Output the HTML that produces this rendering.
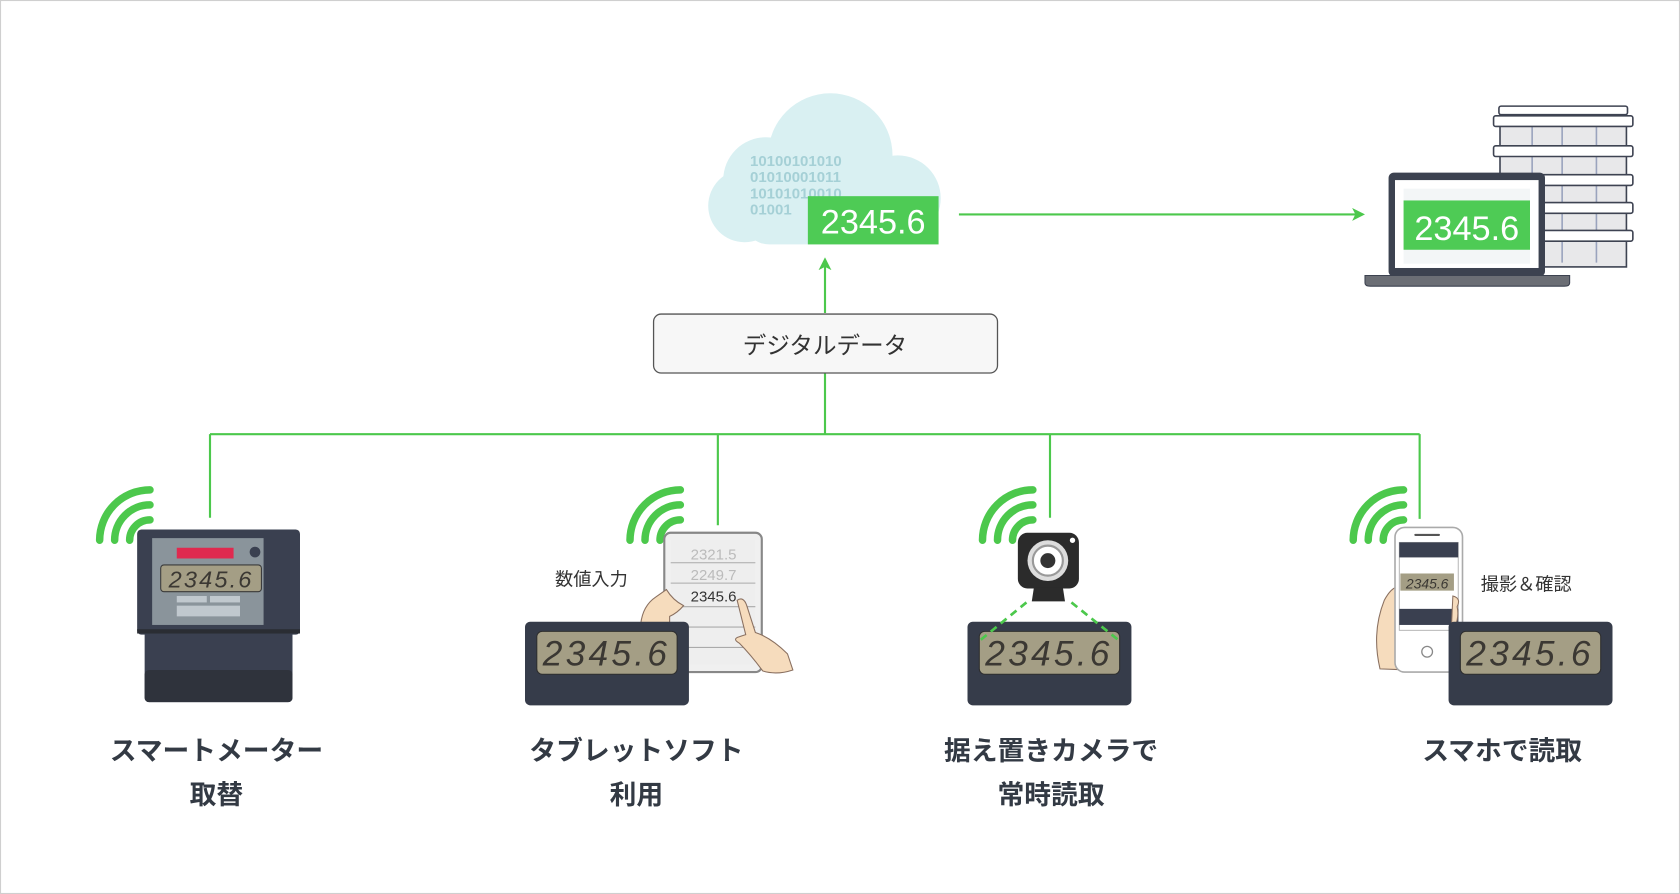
<!DOCTYPE html>
<html><head><meta charset="utf-8"><style>
html,body{margin:0;padding:0;background:#fff;}
svg{display:block;}
text{font-family:"Liberation Sans","Noto Sans CJK JP",sans-serif;}
.lcd{font-family:"Liberation Sans",sans-serif;font-style:italic;fill:#3b3833;}
</style></head><body>
<svg width="1680" height="894" viewBox="0 0 1568 834" preserveAspectRatio="none" xmlns="http://www.w3.org/2000/svg">
<rect x="0.5" y="0.5" width="1567" height="833" fill="#fff" stroke="#cfcfcf"/>
<defs>
<marker id="ah" markerWidth="12" markerHeight="12" refX="10" refY="6" orient="auto" markerUnits="userSpaceOnUse"><path d="M0,0 L12,6 L0,12 L3,6z" fill="#4cc84c"/></marker>
<g id="wifi" fill="none" stroke="#4cc84c" stroke-width="7" stroke-linecap="round">
<path d="M-47,0 A47,47 0 0 1 0,-47"/><path d="M-33,0 A33,33 0 0 1 0,-33"/><path d="M-19,0 A19,19 0 0 1 0,-19"/>
</g>
<g id="lcdbox">
<rect x="0" y="0" width="153" height="78" rx="5" fill="#363c4a"/>
<rect x="11" y="9" width="131" height="40" rx="5" fill="#a49e85" stroke="#2e2e2e" stroke-width="1"/>
<text x="76" y="41" text-anchor="middle" font-size="33" letter-spacing="3" class="lcd">2345.6</text>
</g>
</defs>

<!-- cloud -->
<g fill="#d9f0f2">
<circle cx="775" cy="145" r="58"/><circle cx="715" cy="168" r="40"/><circle cx="838" cy="185" r="40"/>
<circle cx="695" cy="192" r="34"/><rect x="693" y="172" width="180" height="56" rx="25"/>
</g>
<g font-family="Liberation Mono,monospace" font-size="14" fill="#a5d0d6" style="font-family:'Liberation Mono',monospace" font-weight="bold">
<text x="700" y="155">10100101010</text>
<text x="700" y="170">01010001011</text>
<text x="700" y="185">10101010010</text>
<text x="700" y="200">01001</text>
</g>
<rect x="754" y="183" width="122" height="45" fill="#4ecb55"/>
<text x="815" y="218" text-anchor="middle" font-size="32" fill="#fff">2345.6</text>

<!-- arrows -->
<g stroke="#4cc84c" stroke-width="2" fill="none">
<line x1="770" y1="292" x2="770" y2="242" marker-end="url(#ah)"/>
<line x1="895" y1="200" x2="1272" y2="200" marker-end="url(#ah)"/>
<line x1="770" y1="348" x2="770" y2="405"/>
<line x1="196" y1="405" x2="1325" y2="405"/>
<line x1="196" y1="405" x2="196" y2="483"/>
<line x1="670" y1="405" x2="670" y2="490"/>
<line x1="980" y1="405" x2="980" y2="483"/>
<line x1="1325" y1="405" x2="1325" y2="484"/>
</g>
<rect x="610" y="293" width="321" height="55" rx="7" fill="#f7f7f7" stroke="#555" stroke-width="1.2"/>
<text x="770" y="330" text-anchor="middle" font-size="22" fill="#333">デジタルデータ</text>

<!-- building -->
<g stroke="#3e4352" stroke-width="1.5">
<rect x="1400" y="104" width="118" height="145" fill="#e8e8ea"/>
<g stroke="#9aa3bd"><line x1="1430" y1="110" x2="1430" y2="245"/><line x1="1458" y1="110" x2="1458" y2="245"/><line x1="1490" y1="110" x2="1490" y2="245"/></g>
<rect x="1399" y="99" width="120" height="8" rx="2" fill="#fff"/>
<rect x="1394" y="108" width="130" height="10" rx="2" fill="#fff"/>
<rect x="1394" y="136" width="130" height="10" rx="2" fill="#fff"/>
<rect x="1394" y="163" width="130" height="10" rx="2" fill="#fff"/>
<rect x="1394" y="189" width="130" height="10" rx="2" fill="#fff"/>
<rect x="1394" y="215" width="130" height="10" rx="2" fill="#fff"/>
</g>
<!-- laptop -->
<rect x="1296" y="161" width="146" height="97" rx="5" fill="#3c4250"/>
<rect x="1302" y="168" width="134" height="82" fill="#fff"/>
<rect x="1310" y="176" width="118" height="70" fill="#f3f6f7"/>
<rect x="1310" y="187" width="118" height="46" fill="#4ecb55"/>
<text x="1369" y="224" text-anchor="middle" font-size="32" fill="#fff">2345.6</text>
<path d="M1274,257 H1465 V264 Q1465,267 1460,267 H1279 Q1274,267 1274,264z" fill="#6b6e75" stroke="#3c4250"/>

<!-- meter -->
<use href="#wifi" x="140" y="504"/>
<rect x="135" y="585" width="138" height="70" rx="4" fill="#3a4050"/>
<rect x="135" y="625" width="138" height="30" rx="4" fill="#2f333c"/>
<rect x="128" y="494" width="152" height="98" rx="4" fill="#3a4050"/>
<rect x="128" y="587" width="152" height="4" fill="#2a2d33"/>
<rect x="142" y="502" width="104" height="81" fill="#8a949b"/>
<rect x="165" y="511" width="53" height="10" fill="#e0294f"/>
<circle cx="238" cy="515" r="5" fill="#3a4050"/>
<rect x="150" y="527" width="94" height="25" rx="3" fill="#a49e85" stroke="#3a3a3a"/>
<text x="197" y="548" text-anchor="middle" font-size="22" letter-spacing="2" class="lcd">2345.6</text>
<rect x="165" y="556" width="28" height="6" fill="#c0c8ce"/><rect x="196" y="556" width="28" height="6" fill="#c0c8ce"/>
<rect x="165" y="565" width="59" height="10" fill="#c0c8ce"/>

<!-- tablet -->
<use href="#wifi" x="635" y="504"/>
<rect x="620" y="497" width="91" height="130" rx="6" fill="#f0f0f0" stroke="#888" stroke-width="2"/>
<rect x="626" y="504" width="79" height="116" fill="#eeeeee"/>
<g stroke="#aaa"><line x1="626" y1="525" x2="705" y2="525"/><line x1="626" y1="544" x2="705" y2="544"/><line x1="626" y1="566" x2="705" y2="566"/><line x1="626" y1="585" x2="705" y2="585"/><line x1="626" y1="604" x2="705" y2="604"/></g>
<text x="666" y="522" text-anchor="middle" font-size="14" fill="#bbb">2321.5</text>
<text x="666" y="541" text-anchor="middle" font-size="14" fill="#bbb">2249.7</text>
<text x="666" y="561" text-anchor="middle" font-size="14" fill="#333">2345.6</text>
<path d="M598,582 Q600,565 612,557 L622,550 Q628,560 638,565 Q632,572 625,575 L625,590 Z" fill="#f6dcbd" stroke="#8a7060" stroke-width="1"/>
<path d="M688,560 Q694,556 697,565 L705,590 Q720,595 735,610 L740,625 Q725,630 712,626 Q700,610 690,600 Q683,596 690,594 L696,592 Z" fill="#f6dcbd" stroke="#8a7060" stroke-width="1"/>
<text x="518" y="546" font-size="17" fill="#333">数値入力</text>
<use href="#lcdbox" x="490" y="580"/>

<!-- camera -->
<use href="#wifi" x="964" y="504"/>
<rect x="950" y="497" width="57" height="52" rx="9" fill="#2b2b2b"/>
<circle cx="1001" cy="504" r="2.5" fill="#fff"/>
<circle cx="978" cy="523" r="19" fill="#ddd"/>
<circle cx="978" cy="523" r="14" fill="#fff" stroke="#999" stroke-width="2"/>
<circle cx="978" cy="523" r="7" fill="#333"/>
<path d="M965,548 H992 L994,561 H963z" fill="#2b2b2b"/>
<use href="#lcdbox" x="903" y="580"/>
<g stroke="#4cc84c" stroke-width="2.5" stroke-dasharray="7,5"><line x1="958" y1="562" x2="914" y2="598"/><line x1="1000" y1="562" x2="1045" y2="598"/></g>

<!-- phone -->
<use href="#wifi" x="1310" y="504"/>
<path d="M1288,624 Q1280,590 1292,560 Q1300,545 1308,548 L1350,555 Q1360,560 1356,580 L1352,600 L1340,626 Z" fill="#f6dcbd" stroke="#8a7060" stroke-width="1"/>
<rect x="1302" y="492" width="63" height="135" rx="9" fill="#fff" stroke="#aaa" stroke-width="1.5"/>
<rect x="1320" y="498" width="24" height="2" rx="1" fill="#555"/>
<rect x="1306" y="506" width="55" height="82" fill="#fff" stroke="#aaa" stroke-width="0.8"/>
<rect x="1306" y="506" width="55" height="14" fill="#3a4050"/>
<rect x="1306" y="568" width="55" height="15" fill="#3a4050"/>
<rect x="1307" y="535" width="50" height="16" fill="#a49e85"/>
<text x="1332" y="549" text-anchor="middle" font-size="13" class="lcd">2345.6</text>
<circle cx="1332" cy="608" r="5" fill="none" stroke="#888" stroke-width="1.2"/>
<path d="M1356,556 Q1364,558 1360,566 Q1362,575 1358,585 Q1362,595 1354,600 Z" fill="#f6dcbd" stroke="#8a7060" stroke-width="1"/>
<text x="1382" y="551" font-size="17" fill="#333">撮影＆確認</text>
<use href="#lcdbox" x="1352" y="580"/>

<!-- labels -->
<g font-size="25" font-weight="bold" fill="#333a44" text-anchor="middle">
<text x="202" y="709">スマートメーター</text><text x="202" y="750">取替</text>
<text x="594" y="709">タブレットソフト</text><text x="594" y="750">利用</text>
<text x="981" y="709">据え置きカメラで</text><text x="981" y="750">常時読取</text>
<text x="1402" y="709">スマホで読取</text>
</g>
</svg>
</body></html>
